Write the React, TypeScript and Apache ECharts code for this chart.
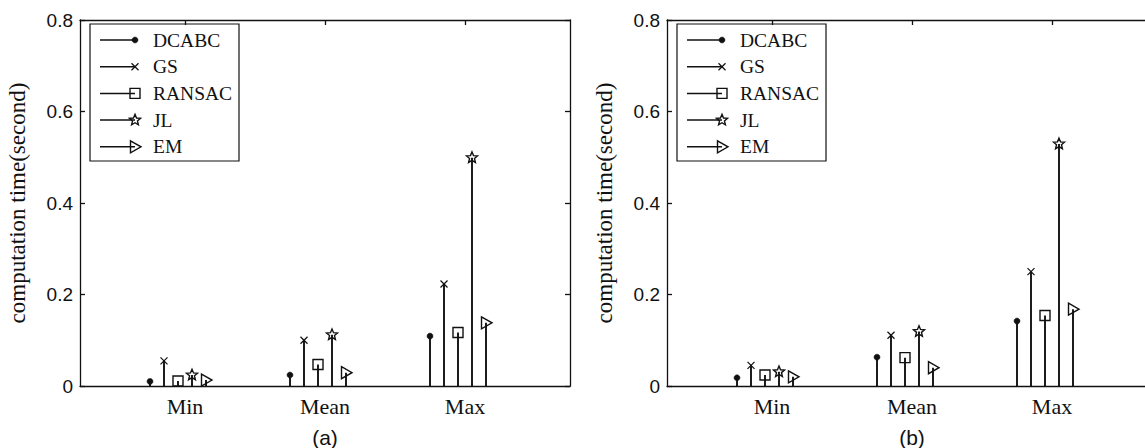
import React, { useEffect, useRef } from "react";
import * as echarts from "echarts";

const categories = ["Min", "Mean", "Max"];
const methods = ["DCABC", "GS", "RANSAC", "JL", "EM"];
const markerKinds = ["dot", "cross", "square", "star", "triangle"];
const offsets = [-0.25, -0.15, -0.05, 0.05, 0.15];

// panel (a)
const aDCABC = [0.010, 0.024, 0.109];
const aGS = [0.055, 0.100, 0.223];
const aRANSAC = [0.011, 0.047, 0.117];
const aJL = [0.024, 0.112, 0.499];
const aEM = [0.013, 0.029, 0.138];

// panel (b)
const bDCABC = [0.018, 0.063, 0.142];
const bGS = [0.045, 0.111, 0.250];
const bRANSAC = [0.024, 0.062, 0.154];
const bJL = [0.031, 0.119, 0.529];
const bEM = [0.020, 0.040, 0.168];

const yTicks = [0, 0.2, 0.4, 0.6, 0.8];
const panelLabels = ["(a)", "(b)"];

const panels = [
  [aDCABC, aGS, aRANSAC, aJL, aEM],
  [bDCABC, bGS, bRANSAC, bJL, bEM],
];

const INK = "#111";
const SERIF = "'Liberation Serif', 'Times New Roman', serif";
const SANS = "'Liberation Sans', Arial, sans-serif";

function marker(kind: string, x: number, y: number): any {
  const stroke = { stroke: INK, lineWidth: 1.4, fill: "none" };
  switch (kind) {
    case "dot":
      return { type: "circle", shape: { cx: x, cy: y, r: 3 }, style: { fill: INK, stroke: INK, lineWidth: 0.5 } };
    case "cross":
      return {
        type: "group",
        children: [
          { type: "line", shape: { x1: x - 3.5, y1: y - 3.5, x2: x + 3.5, y2: y + 3.5 }, style: { stroke: INK, lineWidth: 1.3 } },
          { type: "line", shape: { x1: x - 3.5, y1: y + 3.5, x2: x + 3.5, y2: y - 3.5 }, style: { stroke: INK, lineWidth: 1.3 } },
        ],
      };
    case "square":
      return { type: "rect", shape: { x: x - 5, y: y - 5, width: 10, height: 10 }, style: stroke };
    case "star": {
      const pts: number[][] = [];
      for (let i = 0; i < 10; i++) {
        const r = i % 2 === 0 ? 5.8 : 2.6;
        const a = -Math.PI / 2 + (i * Math.PI) / 5;
        pts.push([x + r * Math.cos(a), y + r * Math.sin(a)]);
      }
      return { type: "polygon", shape: { points: pts }, style: stroke };
    }
    case "triangle":
    default:
      return {
        type: "polygon",
        shape: { points: [[x - 4.5, y - 6], [x + 6, y], [x - 4.5, y + 6]] },
        style: stroke,
      };
  }
}

// panel (b) is cut off by the page's right edge; its x range ends where the page ends
const GRID_LEFTS = [80, 667];
const GRID_WIDTHS = [490, 478];
const X_MIN = 0.25;
const PX_PER_UNIT = 140;
const GRID_TOP = 20;
const GRID_H = 366;

export default function App() {
  const ref = useRef<HTMLDivElement>(null);

  useEffect(() => {
    document.body.style.margin = "0";
    const chart = echarts.init(ref.current!, null, { renderer: "svg" });

    const grids: any[] = [];
    const xAxes: any[] = [];
    const yAxes: any[] = [];
    const series: any[] = [];
    const graphics: any[] = [];

    panels.forEach((panel, p) => {
      const left = GRID_LEFTS[p];
      const width = GRID_WIDTHS[p];
      const xMax = X_MIN + width / PX_PER_UNIT;
      grids.push({ left, top: GRID_TOP, width, height: GRID_H });
      xAxes.push({
        type: "value",
        gridIndex: p,
        min: X_MIN,
        max: xMax,
        position: "bottom",
        axisLine: { show: true, onZero: false, lineStyle: { color: INK, width: 1.3 } },
        axisTick: { show: false },
        splitLine: { show: false },
        axisLabel: {
          customValues: [1, 2, 3],
          formatter: (v: number) => categories[Math.round(v) - 1] ?? "",
          color: INK,
          fontFamily: SERIF,
          fontSize: 22,
          margin: 9,
        },
      });
      xAxes.push({
        type: "value",
        gridIndex: p,
        min: X_MIN,
        max: xMax,
        position: "top",
        axisLine: { show: true, onZero: false, lineStyle: { color: INK, width: 1.3 } },
        axisTick: { show: true, inside: true, length: 5, customValues: [1, 2, 3], lineStyle: { color: INK, width: 1.3 } },
        axisLabel: { show: false },
        splitLine: { show: false },
      });
      yAxes.push({
        type: "value",
        gridIndex: p,
        min: 0,
        max: 0.8,
        interval: 0.2,
        position: "left",
        name: "computation time(second)",
        nameLocation: "middle",
        nameGap: 51,
        nameTextStyle: { color: INK, fontFamily: SERIF, fontSize: 23 },
        axisLine: { show: true, onZero: false, lineStyle: { color: INK, width: 1.3 } },
        axisTick: { show: true, inside: true, length: 5, lineStyle: { color: INK, width: 1.3 } },
        axisLabel: {
          color: INK,
          fontFamily: SANS,
          fontSize: 19,
          margin: 7,
          formatter: (v: number) => (yTicks.includes(v) ? String(v) : ""),
        },
        splitLine: { show: false },
      });
      yAxes.push({
        type: "value",
        gridIndex: p,
        min: 0,
        max: 0.8,
        interval: 0.2,
        position: "right",
        show: p === 0,
        axisLine: { show: true, onZero: false, lineStyle: { color: INK, width: 1.3 } },
        axisTick: { show: true, inside: true, length: 5, lineStyle: { color: INK, width: 1.3 } },
        axisLabel: { show: false },
        splitLine: { show: false },
      });

      panel.forEach((vals, m) => {
        const kind = markerKinds[m];
        series.push({
          type: "custom",
          name: methods[m],
          xAxisIndex: p * 2,
          yAxisIndex: p * 2,
          data: vals.map((v, c) => [c + 1 + offsets[m], v]),
          renderItem: (_params: any, api: any) => {
            const x = api.value(0);
            const y = api.value(1);
            const p0 = api.coord([x, 0]);
            const p1 = api.coord([x, y]);
            return {
              type: "group",
              children: [
                { type: "line", shape: { x1: p0[0], y1: p0[1], x2: p1[0], y2: p1[1] }, style: { stroke: INK, lineWidth: 1.9 } },
                marker(kind, p1[0], p1[1]),
              ],
            };
          },
        });
      });

      const boxChildren: any[] = [
        {
          type: "rect",
          shape: { x: left + 10, y: 24, width: 149, height: 137 },
          style: { fill: "#fff", stroke: INK, lineWidth: 1.2 },
        },
      ];
      methods.forEach((name, m) => {
        const ry = 40 + m * 26.7;
        boxChildren.push({
          type: "line",
          shape: { x1: left + 20, y1: ry, x2: left + 55, y2: ry },
          style: { stroke: INK, lineWidth: 1.5 },
        });
        boxChildren.push(marker(markerKinds[m], left + 55, ry));
        boxChildren.push({
          type: "text",
          x: left + 73,
          y: ry,
          style: { text: name, fill: INK, font: `19.5px ${SERIF}`, verticalAlign: "middle", align: "left" },
        });
      });
      graphics.push({ type: "group", children: boxChildren, z: 100 });
      graphics.push({
        type: "text",
        x: left + 245,
        y: 437,
        style: { text: panelLabels[p], fill: INK, font: `21px ${SANS}`, align: "center", verticalAlign: "middle" },
      });
    });

    chart.setOption({
      animation: false,
      backgroundColor: "#fff",
      grid: grids,
      xAxis: xAxes,
      yAxis: yAxes,
      series,
      graphic: graphics,
    });
    return () => chart.dispose();
  }, []);

  return <div ref={ref} style={{ width: 1145, height: 448 }} />;
}
